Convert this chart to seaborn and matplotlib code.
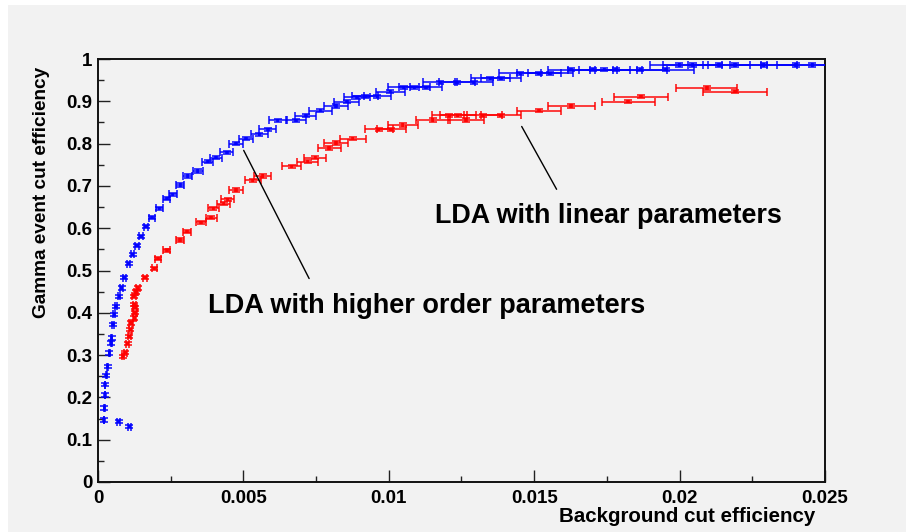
import numpy as np
import pandas as pd
import matplotlib
matplotlib.use("Agg")
import matplotlib.pyplot as plt
import seaborn as sns
from matplotlib.patches import Rectangle

# ---------------- data ----------------
blue_x = [0.00108, 0.00071, 0.00020, 0.00022, 0.00024, 0.00024, 0.00028, 0.00033, 0.00039, 0.00045,
          0.00047, 0.00052, 0.00056, 0.00062, 0.00073, 0.00081, 0.00090, 0.00105, 0.00119, 0.00134,
          0.00148, 0.00165, 0.00186, 0.00211, 0.00237, 0.00257, 0.00283, 0.00308, 0.00343, 0.00377,
          0.00406, 0.00443, 0.00475, 0.00509, 0.00555, 0.00584, 0.00618, 0.00681, 0.00715, 0.00765,
          0.00818, 0.00856, 0.00891, 0.00918, 0.00961, 0.01005, 0.01051, 0.01088, 0.01128, 0.01177,
          0.01235, 0.01292, 0.01349, 0.01386, 0.01452, 0.01517, 0.01555, 0.01627, 0.01701, 0.01741,
          0.01781, 0.01865, 0.01953, 0.01999, 0.02045, 0.02136, 0.02190, 0.02289, 0.02400, 0.02457]
blue_y = [0.131, 0.143, 0.147, 0.175, 0.206, 0.230, 0.252, 0.273, 0.305, 0.329,
          0.340, 0.372, 0.396, 0.415, 0.439, 0.459, 0.483, 0.516, 0.538, 0.559,
          0.581, 0.604, 0.625, 0.647, 0.670, 0.680, 0.702, 0.723, 0.735, 0.757,
          0.767, 0.779, 0.800, 0.812, 0.822, 0.834, 0.855, 0.855, 0.866, 0.878,
          0.889, 0.899, 0.909, 0.912, 0.912, 0.923, 0.933, 0.933, 0.933, 0.945,
          0.945, 0.945, 0.954, 0.954, 0.966, 0.966, 0.966, 0.975, 0.975, 0.975,
          0.975, 0.975, 0.975, 0.986, 0.986, 0.986, 0.986, 0.986, 0.986, 0.986]
blue_xerr = [0.00005, 0.00004, 0.00001, 0.00001, 0.00001, 0.00001, 0.00002, 0.00002, 0.00002, 0.00002,
             0.00002, 0.00003, 0.00003, 0.00003, 0.00004, 0.00004, 0.00005, 0.00005, 0.00006, 0.00007,
             0.00007, 0.00008, 0.00009, 0.00011, 0.00012, 0.00013, 0.00014, 0.00015, 0.00017, 0.00019,
             0.00020, 0.00022, 0.00024, 0.00025, 0.00028, 0.00029, 0.00031, 0.00034, 0.00036, 0.00038,
             0.00041, 0.00043, 0.00045, 0.00046, 0.00048, 0.00050, 0.00053, 0.00054, 0.00056, 0.00059,
             0.00062, 0.00065, 0.00067, 0.00069, 0.00073, 0.00076, 0.00078, 0.00081, 0.00085, 0.00087,
             0.00089, 0.00093, 0.00098, 0.00100, 0.00102, 0.00107, 0.00110, 0.00114, 0.00120, 0.00123]

red_x = [0.00085, 0.00094, 0.00102, 0.00107, 0.00111, 0.00113, 0.00125, 0.00127, 0.00127, 0.00125,
         0.00123, 0.00131, 0.00136, 0.00162, 0.00194, 0.00207, 0.00237, 0.00282, 0.00306, 0.00354,
         0.00389, 0.00397, 0.00432, 0.00446, 0.00475, 0.00532, 0.00566, 0.00666, 0.00721, 0.00747,
         0.00795, 0.00818, 0.00876, 0.00965, 0.01008, 0.01048, 0.01151, 0.01208, 0.01237, 0.01265,
         0.01323, 0.01386, 0.01517, 0.01627, 0.01823, 0.01867, 0.02094, 0.02191]
red_y = [0.297, 0.306, 0.327, 0.344, 0.360, 0.376, 0.388, 0.400, 0.412, 0.419,
         0.439, 0.449, 0.459, 0.483, 0.505, 0.528, 0.548, 0.572, 0.592, 0.614,
         0.625, 0.647, 0.658, 0.668, 0.690, 0.713, 0.723, 0.746, 0.757, 0.767,
         0.790, 0.801, 0.812, 0.834, 0.834, 0.844, 0.856, 0.867, 0.867, 0.856,
         0.867, 0.867, 0.878, 0.889, 0.899, 0.911, 0.931, 0.923]
red_xerr = [0.00004, 0.00005, 0.00005, 0.00005, 0.00006, 0.00006, 0.00006, 0.00006, 0.00006, 0.00006,
            0.00006, 0.00007, 0.00007, 0.00008, 0.00010, 0.00010, 0.00012, 0.00014, 0.00015, 0.00018,
            0.00019, 0.00020, 0.00022, 0.00022, 0.00024, 0.00027, 0.00028, 0.00033, 0.00036, 0.00037,
            0.00040, 0.00041, 0.00044, 0.00048, 0.00050, 0.00052, 0.00058, 0.00060, 0.00062, 0.00063,
            0.00066, 0.00069, 0.00076, 0.00081, 0.00091, 0.00093, 0.00105, 0.00110]
y_err = 0.004

x_ticks = [0, 0.005, 0.01, 0.015, 0.02, 0.025]
x_tick_labels = ["0", "0.005", "0.01", "0.015", "0.02", "0.025"]
y_ticks = [0, 0.1, 0.2, 0.3, 0.4, 0.5, 0.6, 0.7, 0.8, 0.9, 1.0]
y_tick_labels = ["0", "0.1", "0.2", "0.3", "0.4", "0.5", "0.6", "0.7", "0.8", "0.9", "1"]

label_higher = "LDA with higher order parameters"
label_linear = "LDA with linear parameters"
x_title = "Background cut efficiency"
y_title = "Gamma event cut efficiency"

# ---------------- style ----------------
sns.set_theme(style="ticks")
plt.rcParams["font.family"] = ["Liberation Sans", "DejaVu Sans"]
plt.rcParams["font.weight"] = "bold"
plt.rcParams["text.color"] = "black"
plt.rcParams["axes.labelcolor"] = "black"
plt.rcParams["xtick.color"] = "black"
plt.rcParams["ytick.color"] = "black"

BG = "#f2f2f2"
W, H = 906, 532
fig = plt.figure(figsize=(W / 100, H / 100), dpi=100, facecolor="white")
fig.patches.append(Rectangle((8 / W, 0), 1 - 8 / W, 1 - 5 / H, transform=fig.transFigure,
                             facecolor=BG, edgecolor="none", zorder=-10))
L, R, T, B = 98, 825, 59, 482
ax = fig.add_axes([L / W, 1 - B / H, (R - L) / W, (B - T) / H])
ax.set_facecolor(BG)

df = pd.concat([
    pd.DataFrame({"x": blue_x, "y": blue_y, "xerr": blue_xerr, "set": "higher"}),
    pd.DataFrame({"x": red_x, "y": red_y, "xerr": red_xerr, "set": "linear"}),
], ignore_index=True)
palette = {"higher": "#0000ff", "linear": "#ff0000"}

for name, sub in df.groupby("set"):
    ax.errorbar(sub["x"], sub["y"], xerr=sub["xerr"], yerr=y_err, fmt="none",
                ecolor=palette[name], elinewidth=1.25, capsize=2.8, capthick=1.25, alpha=0.85,
                zorder=3)
sns.scatterplot(data=df, x="x", y="y", hue="set", palette=palette, marker="s", s=6,
                linewidth=0, alpha=0.75, legend=False, ax=ax, zorder=4)

ax.set_xlim(0, 0.025)
ax.set_ylim(0, 1)
ax.set_xticks(x_ticks)
ax.set_xticklabels(x_tick_labels)
ax.set_yticks(y_ticks)
ax.set_yticklabels(y_tick_labels)
ax.set_xticks(np.arange(0.0025, 0.025, 0.005), minor=True)
ax.set_yticks(np.arange(0.05, 1.0, 0.1), minor=True)
ax.tick_params(axis="both", which="major", direction="in", length=8.8, width=1.0,
               labelsize=13.5, color="#222222", labelcolor="black")
ax.tick_params(axis="both", which="minor", direction="in", length=4.4, width=1.0, color="#222222")
ax.tick_params(axis="x", pad=6)
ax.tick_params(axis="y", pad=4)
for lab in ax.get_xticklabels() + ax.get_yticklabels():
    lab.set_fontweight("bold")
for sp in ax.spines.values():
    sp.set_visible(True)
    sp.set_linewidth(1.4)
    sp.set_color("#111111")

ax.set_xlabel(x_title, loc="right", fontsize=14.8, fontweight="bold", color="black")
ax.xaxis.set_label_coords((815 - L) / (R - L), -(516 - B) / (B - T))
ax.xaxis.label.set_va("center")
ax.set_ylabel(y_title, loc="top", fontsize=13.7, fontweight="bold", color="black")
ax.yaxis.set_label_coords((42 - L) / (R - L), (B - 67) / (B - T))
ax.yaxis.label.set_va("center")

ax.text(0.01131, 0.417, label_higher, ha="center", va="center", fontsize=19.5,
        fontweight="bold", color="black")
ax.text(0.01754, 0.628, label_linear, ha="center", va="center", fontsize=19.4,
        fontweight="bold", color="black")
ax.annotate("", xy=(0.00501, 0.784), xytext=(0.00726, 0.481),
            arrowprops=dict(arrowstyle="-", lw=1.0, color="black", shrinkA=0, shrinkB=0))
ax.annotate("", xy=(0.01457, 0.8405), xytext=(0.01577, 0.692),
            arrowprops=dict(arrowstyle="-", lw=1.0, color="black", shrinkA=0, shrinkB=0))

fig.savefig("out.png", dpi=100, facecolor=fig.get_facecolor())
